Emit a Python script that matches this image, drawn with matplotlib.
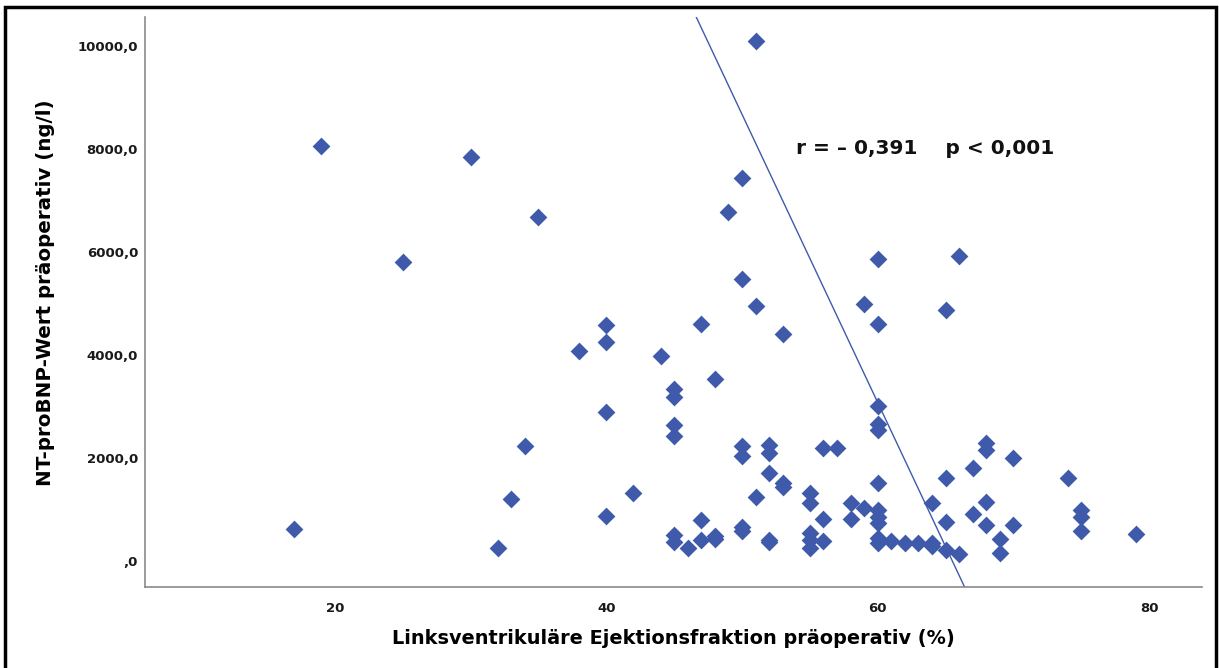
import matplotlib
matplotlib.use("Agg")
import matplotlib.pyplot as plt
from matplotlib.patches import Rectangle
from matplotlib.ticker import FuncFormatter
import numpy as np

# LVEF (%) and NT-proBNP (ng/l)
ef = [17, 19, 25, 30, 32, 33, 34, 35, 38,
      40, 40, 40, 40, 42, 44,
      45, 45, 45, 45, 45, 45, 46, 47, 47, 47, 48, 48, 48, 49,
      50, 50, 50, 50, 50, 50, 51, 51, 51,
      52, 52, 52, 52, 52, 53, 53, 53,
      55, 55, 55, 55, 55, 56, 56, 56, 57, 58, 58, 59, 59,
      60, 60, 60, 60, 60, 60, 60, 60, 60, 60, 60,
      61, 62, 63, 64, 64, 64, 65, 65, 65, 65, 66, 66, 67, 67,
      68, 68, 68, 68, 69, 69, 70, 70, 74, 75, 75, 75, 79]
ntprobnp = [624, 8050, 5810, 7836, 253, 1208, 2242, 6686, 4074,
            4581, 4250, 2885, 877, 1325, 3977,
            3333, 3177, 2631, 2436, 507, 370, 253, 4600, 800, 409, 3540, 487, 430, 6784,
            7446, 5477, 2242, 2047, 663, 585, 10097, 4951, 1248,
            2261, 2105, 1715, 409, 370, 4405, 1520, 1442,
            1325, 1130, 546, 409, 253, 2203, 818, 390, 2203, 1130, 818, 4990, 1033,
            5868, 4600, 3002, 2651, 2553, 1520, 994, 858, 741, 448, 351,
            390, 351, 351, 1130, 351, 292, 4873, 1618, 760, 214, 5926, 136, 1813, 916,
            2300, 2164, 1150, 702, 429, 156, 2008, 702, 1618, 994, 858, 585, 526]

# fit line as drawn: EF = fit_ef0 + fit_slope * NT-proBNP
fit_ef0 = 65.5
fit_slope = -0.001787

x_ticks = [20, 40, 60, 80]
y_ticks = [0, 2000, 4000, 6000, 8000, 10000]
stat_text = "r = \u2013 0,391    p < 0,001"

blue = "#3F5AAB"

fig = plt.figure(figsize=(12.19, 6.68), dpi=100)
ax = fig.add_axes([145 / 1219, 1 - 587 / 668, (1202 - 145) / 1219, (587 - 17) / 668])

ax.scatter(ef, ntprobnp, marker="D", s=82, color=blue, linewidths=0, zorder=3)

ylim = (-505, 10563)
yy = np.array(ylim)
ax.plot(fit_ef0 + fit_slope * yy, yy, color=blue, lw=1.0, zorder=2)

ax.set_xlim(6.0, 83.9)
ax.set_ylim(*ylim)
ax.set_xticks(x_ticks)
ax.set_yticks(y_ticks)


def fmt(v, pos):
    if v == 0:
        return ",0"
    return f"{v:.1f}".replace(".", ",")


ax.yaxis.set_major_formatter(FuncFormatter(fmt))
ax.tick_params(length=0, labelsize=9.5, colors="#1a1a1a")
ax.tick_params(axis="x", pad=11)
ax.tick_params(axis="y", pad=5)
for lab in ax.get_xticklabels() + ax.get_yticklabels():
    lab.set_fontweight("bold")

for side in ["top", "right"]:
    ax.spines[side].set_visible(False)
for side in ["left", "bottom"]:
    ax.spines[side].set_color("#8a8a8a")
    ax.spines[side].set_linewidth(1.2)

ax.set_xlabel("Linksventrikuläre Ejektionsfraktion präoperativ (%)",
              fontsize=13.9, fontweight="bold", labelpad=10)
ax.set_ylabel("NT-proBNP-Wert präoperativ (ng/l)",
              fontsize=14.3, fontweight="bold")
ax.yaxis.set_label_coords(-0.085, 0.517)

ax.text(54.0, 8000, stat_text, fontsize=14.5, fontweight="bold",
        color="#111111", va="center", ha="left")

# outer frame around the picture
fig.patches.append(Rectangle((5 / 1219, -0.01), (1216 - 5) / 1219, 1 - 7 / 668 + 0.01,
                             transform=fig.transFigure, fill=False,
                             edgecolor="black", lw=2.5, clip_on=False))

fig.savefig("out.png", dpi=100)
